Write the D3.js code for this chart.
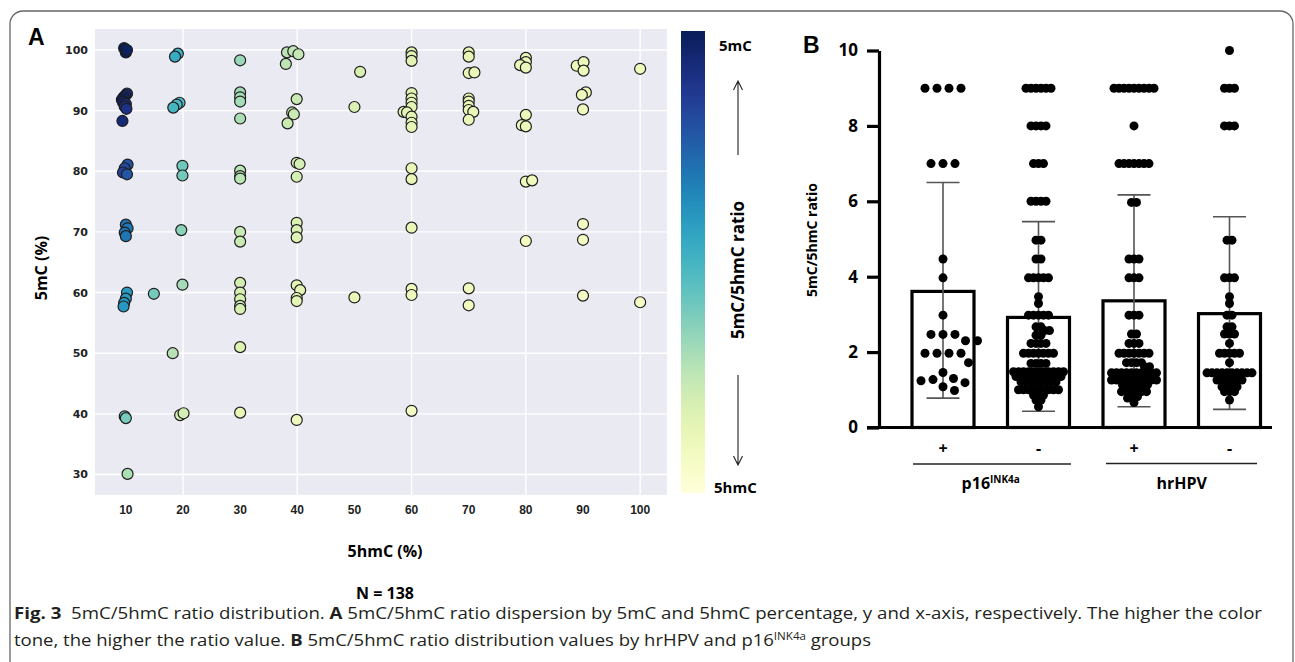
<!DOCTYPE html>
<html>
<head>
<meta charset="utf-8">
<script src="https://cdn.jsdelivr.net/npm/d3@7"></script>
<style>
body { margin: 0; background: #fff; }
svg text { font-family: "Liberation Sans", Arial, sans-serif; }
.lbl { font-family: "Open Sans", "Noto Sans", sans-serif; font-weight: 700; }
</style>
</head>
<body>
<script>
// ---- panel A : 5hmC (%) vs 5mC (%) for every sample ----
var hmC = [
  9.7, 10.0, 10.2,
  10.2, 9.9, 9.6, 9.3, 9.5, 10.0, 9.8, 10.1, 9.4,
  10.3, 9.8, 9.5, 10.2,
  10.0, 10.3, 9.8, 10.0,
  10.2, 10.0, 9.7, 9.6, 14.9,
  9.8, 10.0, 10.3,
  19.1, 18.6, 19.4, 18.9, 18.3, 19.9, 19.9, 19.7, 19.9, 18.2, 19.5, 20.1,
  30, 30, 30, 30, 30, 30, 30, 30, 30, 30, 30, 30, 30, 30, 30, 30, 30,
  38.2, 39.3, 40.2, 38.0, 39.9, 39.1, 39.4, 38.3, 39.9, 40.4, 39.9,
  39.9, 39.9, 39.9, 39.9, 40.5, 39.9, 39.9, 39.9,
  51.0, 50.0, 50.0,
  60, 60, 60, 60, 60, 60, 60, 58.6, 59.2, 60, 60, 60, 60, 60, 60, 60, 60, 60,
  70, 70, 70, 71.0, 70, 70, 70, 70, 70.8, 70, 70, 70,
  80, 80, 79.0, 80, 80, 79.3, 80, 80, 81.1, 80,
  88.9, 90.1, 90.1, 90.5, 89.8, 90.0, 90, 90, 90,
  100, 100
];
var mC = [
  100.3, 99.6, 100.0,
  92.8, 92.5, 92.2, 91.8, 91.4, 91.1, 90.7, 90.3, 88.3,
  81.1, 80.5, 79.8, 79.5,
  71.2, 70.6, 69.9, 69.3,
  60.0, 59.0, 58.3, 57.7, 59.8,
  39.6, 39.3, 30.1,
  99.4, 98.9, 91.3, 91.0, 90.5, 80.9, 79.3, 70.3, 61.3, 50.0, 39.8, 40.1,
  98.3, 93.0, 92.2, 91.5, 88.7, 80.1, 79.2, 78.8, 70.0, 68.4, 61.6, 60.0, 58.9, 57.8, 57.3, 51.0, 40.2,
  99.6, 99.8, 99.3, 97.7, 91.9, 89.7, 89.4, 87.9, 81.4, 81.2, 79.1,
  71.5, 70.3, 69.1, 61.2, 60.4, 59.1, 58.6, 39.0,
  96.4, 90.6, 59.2,
  99.6, 99.0, 98.2, 92.9, 92.0, 91.3, 90.6, 89.8, 89.7, 89.0, 88.0, 87.3, 80.5, 78.7, 70.7, 60.6, 59.6, 40.5,
  99.6, 98.9, 96.2, 96.3, 92.0, 91.5, 90.8, 90.1, 89.8, 88.5, 60.7, 57.9,
  98.7, 98.0, 97.5, 97.1, 89.3, 87.6, 87.4, 78.3, 78.5, 68.5,
  97.4, 98.0, 96.6, 93.0, 92.6, 90.2, 71.3, 68.7, 59.5,
  96.9, 58.4
];
var xTickVals = [10, 20, 30, 40, 50, 60, 70, 80, 90, 100];
var xGridVals = [20, 40, 60, 80, 100];
var yTickVals = [30, 40, 50, 60, 70, 80, 90, 100];

// ---- panel B : 5mC/5hmC ratio by group ----
var groupCats = ["+", "-", "+", "-"];
var meanRatio = [3.61, 2.92, 3.36, 3.02];
var sdHigh = [6.5, 5.46, 6.17, 5.59];
var sdLow = [0.78, 0.43, 0.55, 0.48];
var ratioP16Pos = [9, 9, 9, 9, 7, 7, 7, 4.47, 3.97, 2.98, 2.47, 2.47, 2.47, 2.3, 2.3,
  1.97, 1.97, 1.97, 1.97, 1.72, 1.46, 1.3, 1.27, 1.24, 1.19, 1.08, 0.98];
var ratioP16Neg = [9, 9, 9, 9, 9, 9, 8, 8, 8, 8, 7, 7, 7, 6, 6, 6, 6, 4.97, 4.97, 4.47, 4.47,
  3.97, 3.97, 3.97, 3.97, 3.97, 3.47, 3.29, 2.98, 2.98, 2.98, 2.98, 2.98, 2.67, 2.67, 2.57, 2.57,
  2.45, 2.45, 2.23, 2.23, 2.23, 2.23, 1.97, 1.97, 1.97, 1.97, 1.97, 1.97, 1.97, 1.7, 1.7, 1.7, 1.7,
  1.48, 1.48, 1.48, 1.48, 1.48, 1.48, 1.48, 1.48, 1.48, 1.48, 1.48,
  1.35, 1.35, 1.35, 1.35, 1.35, 1.35, 1.35, 1.35, 1.35, 1.35,
  1.21, 1.21, 1.21, 1.21, 1.21, 1.21, 1.21, 1.21,
  1.0, 1.0, 1.0, 1.0, 1.0, 1.0, 1.0, 1.0, 1.0, 0.86, 0.86, 0.86, 0.73, 0.73, 0.55];
var ratioHpvPos = [9, 9, 9, 9, 9, 9, 9, 9, 9, 8, 7, 7, 7, 7, 7, 7, 7, 5.97, 5.97,
  4.47, 4.47, 4.47, 3.97, 3.97, 3.97, 2.98, 2.98, 2.98, 2.48, 2.48, 2.23, 2.23, 2.23,
  1.97, 1.97, 1.97, 1.97, 1.97, 1.97, 1.97, 1.72, 1.72, 1.72, 1.72, 1.61, 1.61,
  1.45, 1.45, 1.45, 1.45, 1.45, 1.45, 1.45, 1.45, 1.45, 1.45,
  1.26, 1.26, 1.26, 1.26, 1.26, 1.26, 1.26, 1.26, 1.26, 1.26,
  1.13, 1.13, 1.13, 1.13, 1.13, 1.13, 0.95, 0.95, 0.95, 0.95, 0.95, 0.95, 0.82, 0.82, 0.78, 0.66];
var ratioHpvNeg = [10, 9, 9, 9, 8, 8, 8, 4.97, 4.97, 3.97, 3.97, 3.97, 3.47, 3.29, 2.98, 2.98,
  2.67, 2.67, 2.48, 2.48, 2.48, 2.23, 1.97, 1.97, 1.97, 1.97, 1.97, 1.72,
  1.45, 1.45, 1.45, 1.45, 1.45, 1.45, 1.45, 1.45, 1.45, 1.45,
  1.26, 1.26, 1.26, 1.26, 1.26, 1.26, 1.08, 1.08, 1.08, 1.08, 0.95, 0.95, 0.95, 0.73];
var bTicks = [0, 2, 4, 6, 8, 10];

var svg = d3.select("body").append("svg")
    .attr("width", 1295)
    .attr("height", 662);

// figure frame
svg.append("path")
    .attr("d", "M10,662 V24 A13,13 0 0 1 23,11 H1280 A13,13 0 0 1 1293,24 V662")
    .attr("fill", "none")
    .attr("stroke", "#666")
    .attr("stroke-width", 1.3);

// ================= panel A =================
var x = d3.scaleLinear().domain([4.6, 104.7]).range([95, 667]);
var y = d3.scaleLinear().domain([26.62, 103.46]).range([495, 29]);
var color = function(r) { return d3.interpolateYlGnBu(Math.max(0, Math.min(1, r / 10))); };

svg.append("rect")
    .attr("x", 95).attr("y", 29)
    .attr("width", 572).attr("height", 466)
    .attr("fill", "#eaeaf2");

svg.selectAll(".hgrid")
    .data(yTickVals)
  .enter().append("line")
    .attr("x1", 95).attr("x2", 667)
    .attr("y1", function(d) { return y(d); })
    .attr("y2", function(d) { return y(d); })
    .attr("stroke", "#fff").attr("stroke-width", 1.4);

svg.selectAll(".vgrid")
    .data(xGridVals)
  .enter().append("line")
    .attr("y1", 29).attr("y2", 495)
    .attr("x1", function(d) { return x(d); })
    .attr("x2", function(d) { return x(d); })
    .attr("stroke", "#fff").attr("stroke-width", 1.4);

svg.selectAll(".ylab")
    .data(yTickVals)
  .enter().append("text")
    .attr("x", 88)
    .attr("y", function(d) { return y(d); })
    .attr("dy", "0.36em")
    .attr("text-anchor", "end")
    .style("font-family", "'DejaVu Sans', sans-serif")
    .style("font-weight", "bold")
    .style("font-size", "11px")
    .style("fill", "#222")
    .text(function(d) { return d; });

svg.selectAll(".xlab")
    .data(xTickVals)
  .enter().append("text")
    .attr("x", function(d) { return x(d); })
    .attr("y", 514)
    .attr("text-anchor", "middle")
    .style("font-weight", "bold")
    .style("font-size", "12px")
    .style("fill", "#222")
    .text(function(d) { return d; });

var ptsA = hmC.map(function(h, i) { return {h: h, m: mC[i]}; });
svg.selectAll(".dotA")
    .data(ptsA)
  .enter().append("circle")
    .attr("cx", function(d) { return x(d.h); })
    .attr("cy", function(d) { return y(d.m); })
    .attr("r", 5.5)
    .attr("fill", function(d) { return color(d.m / d.h); })
    .attr("stroke", "#1e1e1e")
    .attr("stroke-width", 1.2);

svg.append("text")
    .attr("x", 28).attr("y", 45)
    .style("font-weight", "bold").style("font-size", "23px")
    .text("A");

svg.append("text")
    .attr("class", "lbl")
    .attr("transform", "translate(47,268) rotate(-90)")
    .attr("text-anchor", "middle")
    .style("font-size", "16px")
    .text("5mC (%)");

svg.append("text")
    .attr("class", "lbl")
    .attr("x", 385).attr("y", 557)
    .attr("text-anchor", "middle")
    .style("font-size", "16px")
    .text("5hmC (%)");

svg.append("text")
    .attr("class", "lbl")
    .attr("x", 385).attr("y", 599)
    .attr("text-anchor", "middle")
    .style("font-size", "16px")
    .text("N = 138");

// colour bar
var grad = svg.append("defs").append("linearGradient")
    .attr("id", "cbar")
    .attr("x1", 0).attr("y1", 1).attr("x2", 0).attr("y2", 0);
grad.selectAll("stop")
    .data(d3.range(0, 1.0001, 0.05))
  .enter().append("stop")
    .attr("offset", function(d) { return d; })
    .attr("stop-color", function(d) { return d3.interpolateYlGnBu(d); });

svg.append("rect")
    .attr("x", 681).attr("y", 31)
    .attr("width", 24).attr("height", 462)
    .attr("fill", "url(#cbar)");

svg.append("text")
    .attr("class", "lbl")
    .attr("x", 719).attr("y", 51)
    .style("font-size", "15px")
    .text("5mC");

svg.append("text")
    .attr("class", "lbl")
    .attr("x", 714).attr("y", 493)
    .style("font-size", "15px")
    .text("5hmC");

svg.append("path")
    .attr("d", "M738,155 V81 M733.5,90 L738,81 L742.5,90 M738,375 V465 M733.5,456 L738,465 L742.5,456")
    .attr("fill", "none")
    .attr("stroke", "#222")
    .attr("stroke-width", 1.1);

svg.append("text")
    .attr("class", "lbl")
    .attr("transform", "translate(744,270) rotate(-90)")
    .attr("text-anchor", "middle")
    .style("font-size", "17px")
    .text("5mC/5hmC ratio");

// ================= panel B =================
var yb = d3.scaleLinear().domain([0, 10]).range([427.5, 50.5]);
var xb = d3.scalePoint().domain(d3.range(4)).range([895.25, 1277.25]).padding(0.5);
var barW = 62;
var groupData = [ratioP16Pos, ratioP16Neg, ratioHpvPos, ratioHpvNeg];
var spreadDist = [12, 5, 5, 5];

// place dots of one column: rows of equal values centred, shifted to avoid overlap
function swarm(vals, d) {
  var rows = d3.rollups(vals, function(v) { return v.length; }, function(v) { return v; })
    .sort(function(a, b) { return b[0] - a[0]; });
  var placed = [];
  rows.forEach(function(r) {
    var v = r[0], n = r[1], py = yb(v);
    for (var k = 0; k < 600; k++) {
      var c = (k % 2 ? 1 : -1) * Math.ceil(k / 2) * 0.5;
      var xs = d3.range(n).map(function(i) { return c + (i - (n - 1) / 2) * d; });
      var ok = xs.every(function(xx) {
        return placed.every(function(p) {
          return (p.dx - xx) * (p.dx - xx) + (p.y - py) * (p.y - py) >= d * d - 0.01;
        });
      });
      if (ok) {
        xs.forEach(function(xx) { placed.push({dx: xx, y: py}); });
        break;
      }
    }
  });
  return placed;
}

svg.append("text")
    .attr("x", 803).attr("y", 53)
    .style("font-weight", "bold").style("font-size", "23px")
    .text("B");

svg.selectAll(".bar")
    .data(meanRatio)
  .enter().append("rect")
    .attr("x", function(d, i) { return xb(i) - barW / 2; })
    .attr("y", function(d) { return yb(d); })
    .attr("width", barW)
    .attr("height", function(d) { return yb(0) - yb(d); })
    .attr("fill", "#fff")
    .attr("stroke", "#000")
    .attr("stroke-width", 3.2);

var err = svg.selectAll(".err")
    .data(meanRatio)
  .enter().append("g");
err.append("path")
    .attr("d", function(d, i) {
      var cx = xb(i), hi = yb(sdHigh[i]), lo = yb(sdLow[i]);
      return "M" + cx + "," + hi + "V" + lo +
        "M" + (cx - 16.5) + "," + hi + "H" + (cx + 16.5) +
        "M" + (cx - 16.5) + "," + lo + "H" + (cx + 16.5);
    })
    .attr("fill", "none")
    .attr("stroke", "#555")
    .attr("stroke-width", 1.6);

groupData.forEach(function(vals, i) {
  var pts = swarm(vals, spreadDist[i]);
  svg.selectAll(".dotB" + i)
      .data(pts)
    .enter().append("circle")
      .attr("cx", function(d) { return xb(i) + d.dx; })
      .attr("cy", function(d) { return d.y; })
      .attr("r", 4.5)
      .attr("fill", "#000");
});

// axes
var yAxisB = svg.append("g")
    .attr("transform", "translate(879,0)")
    .call(d3.axisLeft(yb).tickValues(bTicks).tickSize(12).tickSizeOuter(0).tickPadding(9));
yAxisB.select(".domain").attr("stroke-width", 3.2).attr("stroke", "#000");
yAxisB.selectAll(".tick line").attr("stroke-width", 3.2).attr("stroke", "#000");
yAxisB.selectAll(".tick text")
    .attr("class", "lbl")
    .style("font-size", "17px")
    .style("fill", "#000");

svg.append("line")
    .attr("x1", 867).attr("x2", 1272)
    .attr("y1", yb(0)).attr("y2", yb(0))
    .attr("stroke", "#000").attr("stroke-width", 3.2);

svg.append("text")
    .attr("class", "lbl")
    .attr("transform", "translate(817,240) rotate(-90)")
    .attr("text-anchor", "middle")
    .style("font-size", "14px")
    .text("5mC/5hmC ratio");

svg.selectAll(".cat")
    .data(groupCats)
  .enter().append("text")
    .attr("class", "lbl")
    .attr("x", function(d, i) { return xb(i); })
    .attr("y", 454)
    .attr("text-anchor", "middle")
    .style("font-size", "16px")
    .text(function(d) { return d; });

svg.append("line")
    .attr("x1", 913).attr("x2", 1071).attr("y1", 464).attr("y2", 464)
    .attr("stroke", "#222").attr("stroke-width", 1.4);
svg.append("line")
    .attr("x1", 1106).attr("x2", 1257).attr("y1", 463.5).attr("y2", 463.5)
    .attr("stroke", "#222").attr("stroke-width", 1.4);

var g1 = svg.append("text")
    .attr("class", "lbl")
    .attr("x", (xb(0) + xb(1)) / 2).attr("y", 489)
    .attr("text-anchor", "middle")
    .style("font-size", "16px");
g1.append("tspan").text("p16");
g1.append("tspan").attr("dy", -6).style("font-size", "10px").text("INK4a");

svg.append("text")
    .attr("class", "lbl")
    .attr("x", (xb(2) + xb(3)) / 2).attr("y", 489)
    .attr("text-anchor", "middle")
    .style("font-size", "16px")
    .text("hrHPV");

// ================= caption =================
var cap1 = svg.append("text")
    .attr("x", 14).attr("y", 619)
    .attr("textLength", 1248)
    .attr("lengthAdjust", "spacingAndGlyphs")
    .style("font-family", "'Open Sans', sans-serif")
    .style("font-size", "16px")
    .style("fill", "#231f20");
cap1.append("tspan").style("font-weight", "bold").text("Fig. 3");
cap1.append("tspan").text("\u00a0\u00a05mC/5hmC ratio distribution. ");
cap1.append("tspan").style("font-weight", "bold").text("A");
cap1.append("tspan").text(" 5mC/5hmC ratio dispersion by 5mC and 5hmC percentage, y and x-axis, respectively. The higher the color");

var cap2 = svg.append("text")
    .attr("x", 14).attr("y", 646)
    .attr("textLength", 857)
    .attr("lengthAdjust", "spacingAndGlyphs")
    .style("font-family", "'Open Sans', sans-serif")
    .style("font-size", "16px")
    .style("fill", "#231f20");
cap2.append("tspan").text("tone, the higher the ratio value. ");
cap2.append("tspan").style("font-weight", "bold").text("B");
cap2.append("tspan").text(" 5mC/5hmC ratio distribution values by hrHPV and p16");
cap2.append("tspan").attr("dy", -6).style("font-size", "10px").text("INK4a");
cap2.append("tspan").attr("dy", 6).text(" groups");
</script>
</body>
</html>
